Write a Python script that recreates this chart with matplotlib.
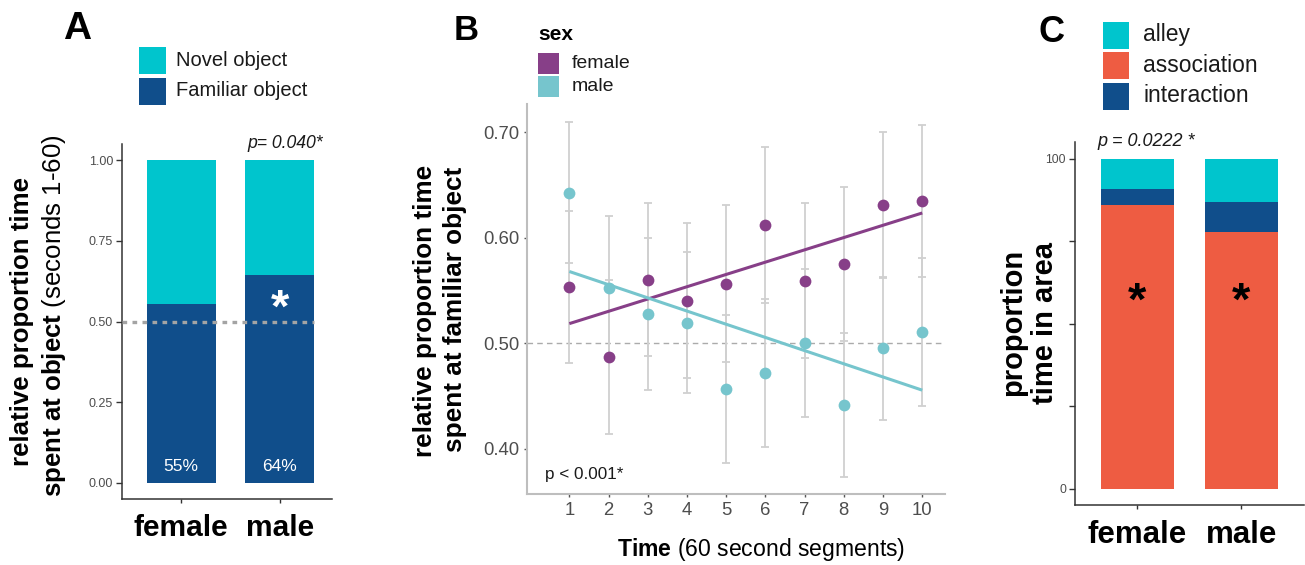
import numpy as np
import matplotlib
matplotlib.use("Agg")
import matplotlib.pyplot as plt
from matplotlib.patches import Rectangle

plt.rcParams['font.family'] = ['Liberation Sans', 'DejaVu Sans']
plt.rcParams['mathtext.fontset'] = 'custom'
plt.rcParams['mathtext.rm'] = 'Liberation Sans'
plt.rcParams['mathtext.bf'] = 'Liberation Sans:bold'
plt.rcParams['mathtext.it'] = 'Liberation Sans:italic'

# ---------------- data ----------------
sexes = ['female', 'male']

# Panel A: relative proportion of time at objects
a_familiar = [0.555, 0.643]
a_novel = [0.445, 0.357]
a_pct_labels = ['55%', '64%']
a_pvalue = 'p= 0.040*'

# Panel B: proportion of time at familiar object per 60 s segment
time_segments = [1, 2, 3, 4, 5, 6, 7, 8, 9, 10]
b_female_mean = [0.5535, 0.4873, 0.5604, 0.5405, 0.5566, 0.6118, 0.5594, 0.5752, 0.6310, 0.6344]
b_female_err = [0.072, 0.073, 0.072, 0.073, 0.074, 0.074, 0.073, 0.073, 0.069, 0.072]
b_male_mean = [0.6426, 0.5525, 0.5276, 0.5197, 0.4564, 0.4715, 0.4999, 0.4419, 0.4952, 0.5109]
b_male_err = [0.067, 0.068, 0.072, 0.067, 0.070, 0.070, 0.070, 0.068, 0.068, 0.070]
b_pvalue = 'p < 0.001*'

# Panel C: proportion of time in area
c_association = [85.9, 77.9]
c_interaction = [5.0, 9.1]
c_alley = [9.1, 13.0]
c_pvalue = 'p = 0.0222 *'

# ---------------- style ----------------
NOVEL = '#00C5CD'
FAMIL = '#104E8B'
ASSOC = '#EE5C42'
FEM = '#873F88'
MAL = '#76C5CD'
TICKC = '#4D4D4D'

W, H = 1305, 565
fig = plt.figure(figsize=(W / 100, H / 100), dpi=100)


def fx(x):
    return x / W


def fy(y):
    return 1 - y / H


def axes_px(l, t, r, b):
    return fig.add_axes([l / W, 1 - b / H, (r - l) / W, (b - t) / H])


def legend_box(x0, ys, labels, colors, w, h, tx, fontsize):
    for (yc, lab, col) in zip(ys, labels, colors):
        fig.add_artist(Rectangle((fx(x0), fy(yc + h / 2)), w / W, h / H,
                                 transform=fig.transFigure, color=col, lw=0))
        fig.text(fx(tx), fy(yc), lab, fontsize=fontsize, va='center', ha='left', color='#1A1A1A')


xpos = np.arange(1, len(sexes) + 1)

# ---------------- Panel A ----------------
axA = axes_px(122, 144, 331.7, 499)
axA.bar(xpos, a_familiar, width=0.7, color=FAMIL, lw=0)
axA.bar(xpos, a_novel, bottom=a_familiar, width=0.7, color=NOVEL, lw=0)
axA.hlines(0.5, 0.4, 2.35, colors='#A4A4A4', lw=2.4, linestyles=(0, (1.4, 1.6)), zorder=3)
axA.set_xlim(0.4, 2.525)
axA.set_ylim(-0.05, 1.05)
axA.set_yticks([0, 0.25, 0.5, 0.75, 1.0])
axA.set_yticklabels(['0.00', '0.25', '0.50', '0.75', '1.00'])
axA.set_xticks(xpos)
axA.set_xticklabels(sexes, fontsize=21.5, fontweight='bold', color='black')
axA.tick_params(axis='y', labelsize=9, labelcolor=TICKC, length=4, width=1, color='#333333', pad=2.5)
axA.tick_params(axis='x', length=3, width=1, color='#333333', pad=7.5)
for s in ['top', 'right']:
    axA.spines[s].set_visible(False)
for s in ['left', 'bottom']:
    axA.spines[s].set_color('#333333')
    axA.spines[s].set_linewidth(1.1)
for x, v, lab in zip(xpos, a_familiar, a_pct_labels):
    axA.text(x, 0.052, lab, color='white', fontsize=12.5, ha='center', va='center')
axA.text(2, 0.50, '*', color='white', fontsize=34, fontweight='bold', ha='center', va='baseline')
axA.text(2.05, 1.05, a_pvalue, fontsize=12.7, style='italic', ha='center', va='center',
         color='#1A1A1A', clip_on=False)

fig.text(fx(22.5), fy(321), 'relative proportion time', rotation=90, fontsize=18.6,
         fontweight='bold', ha='center', va='center')
fig.text(fx(54), fy(316), r'$\mathbf{spent\ at\ object}$ (seconds 1-60)', rotation=90,
         fontsize=18.6, ha='center', va='center')
fig.text(fx(77.5), fy(29), 'A', fontsize=28, fontweight='bold', ha='center', va='center')
legend_box(139.3, [60.5, 91], ['Novel object', 'Familiar object'], [NOVEL, FAMIL],
           26.4, 27, 176, 14.5)

# ---------------- Panel B ----------------
axB = axes_px(526.7, 104, 945, 494)
axB.axhline(0.5, color='#ABABAB', lw=1.0, ls=(0, (4, 3)), zorder=1)
axB.errorbar(time_segments, b_female_mean, yerr=b_female_err, fmt='none', ecolor='#D0D0D0',
             elinewidth=1.3, capsize=3.2, capthick=1.3, zorder=2)
axB.errorbar(time_segments, b_male_mean, yerr=b_male_err, fmt='none', ecolor='#D0D0D0',
             elinewidth=1.3, capsize=3.2, capthick=1.3, zorder=2)
axB.scatter(time_segments, b_female_mean, s=72, color=FEM, lw=0, zorder=3)
axB.scatter(time_segments, b_male_mean, s=72, color=MAL, lw=0, zorder=3)
tt = np.array(time_segments, dtype=float)
for mean, col in [(b_female_mean, FEM), (b_male_mean, MAL)]:
    k, c0 = np.polyfit(tt, mean, 1)
    axB.plot([tt.min(), tt.max()], [c0 + k * tt.min(), c0 + k * tt.max()], color=col, lw=2.2,
             zorder=4, solid_capstyle='butt')
axB.set_xlim(-0.087, 10.58)
axB.set_ylim(0.3574, 0.7265)
axB.set_xticks(time_segments)
axB.set_yticks([0.4, 0.5, 0.6, 0.7])
axB.set_yticklabels(['0.40', '0.50', '0.60', '0.70'])
axB.tick_params(labelsize=13.3, labelcolor=TICKC, length=2.5, width=1, color='#555555', pad=3)
for s in ['top', 'right']:
    axB.spines[s].set_visible(False)
for s in ['left', 'bottom']:
    axB.spines[s].set_color('#BEBEBE')
    axB.spines[s].set_linewidth(1.5)
axB.text(0.38, 0.3754, b_pvalue, fontsize=12.3, ha='left', va='center', color='#1A1A1A')

fig.text(fx(425), fy(311), 'relative proportion time', rotation=90, fontsize=18.8,
         fontweight='bold', ha='center', va='center')
fig.text(fx(455.4), fy(309), 'spent at familiar object', rotation=90, fontsize=18.8,
         fontweight='bold', ha='center', va='center')
fig.text(fx(760.7), fy(549.5), r'$\mathbf{Time}$ (60 second segments)', fontsize=16.6,
         ha='center', va='center')
fig.text(fx(466), fy(31), 'B', fontsize=25, fontweight='bold', ha='center', va='center')
fig.text(fx(538.3), fy(35), 'sex', fontsize=15, fontweight='bold', ha='left', va='center')
legend_box(538.3, [63.3, 86.3], sexes, [FEM, MAL], 21, 20.5, 571.7, 14)

# ---------------- Panel C ----------------
axC = axes_px(1075, 142.3, 1303.8, 505.2)
axC.bar(xpos, c_association, width=0.7, color=ASSOC, lw=0)
bot2 = [a + b for a, b in zip(c_association, c_interaction)]
axC.bar(xpos, c_interaction, bottom=c_association, width=0.7, color=FAMIL, lw=0)
axC.bar(xpos, c_alley, bottom=bot2, width=0.7, color=NOVEL, lw=0)
axC.set_xlim(0.4, 2.6)
axC.set_ylim(-5, 105)
axC.set_yticks([0, 25, 50, 75, 100])
axC.set_yticklabels(['0', '', '', '', '100'])
axC.set_xticks(xpos)
axC.set_xticklabels(sexes, fontsize=22.5, fontweight='bold', color='black')
axC.tick_params(axis='y', labelsize=8.8, labelcolor=TICKC, length=4, width=1, color='#333333', pad=2.5)
axC.tick_params(axis='x', length=3, width=1, color='#333333', pad=7.5)
for s in ['top', 'right']:
    axC.spines[s].set_visible(False)
for s in ['left', 'bottom']:
    axC.spines[s].set_color('#333333')
    axC.spines[s].set_linewidth(1.1)
for x in xpos:
    axC.text(x, 52.8, '*', color='black', fontsize=34, fontweight='bold', ha='center', va='baseline')
axC.text(1.08, 105.3, c_pvalue, fontsize=13, style='italic', ha='center', va='center',
         color='#1A1A1A', clip_on=False)

fig.text(fx(1013.3), fy(322.5), 'proportion', rotation=90, fontsize=21,
         fontweight='bold', ha='center', va='center')
fig.text(fx(1045), fy(322.5), 'time in area', rotation=90, fontsize=21,
         fontweight='bold', ha='center', va='center')
fig.text(fx(1051.7), fy(32), 'C', fontsize=26, fontweight='bold', ha='center', va='center')
legend_box(1102.7, [35, 65.5, 96], ['alley', 'association', 'interaction'], [NOVEL, ASSOC, FAMIL],
           26.7, 27, 1143.3, 16.5)

fig.savefig('out.png', dpi=100)
